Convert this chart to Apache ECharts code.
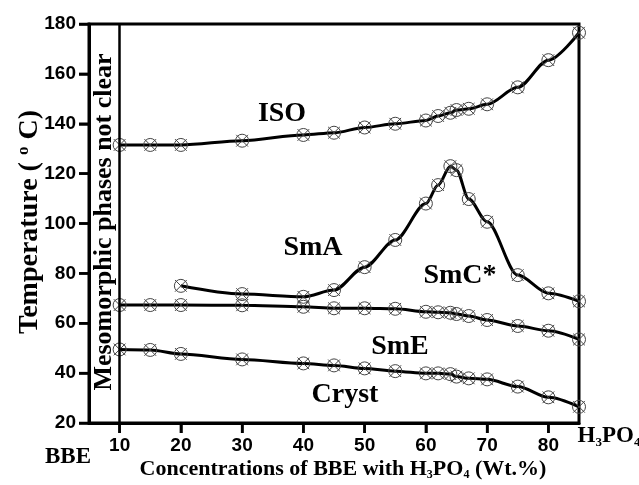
<!DOCTYPE html>
<html>
<head>
<meta charset="utf-8">
<script src="https://cdn.jsdelivr.net/npm/echarts@6/dist/echarts.min.js"></script>
<style>html,body{margin:0;padding:0;background:#fff;}#c{width:639px;height:485px;}</style>
</head>
<body>
<div id="c"></div>
<script>
// concentrations (wt.%) and transition temperatures (°C)
var isoX   = [10,15,20,30,40,45,50,55,60,62,64,65,67,70,75,80,85];
var isoT   = [131.5,131.5,131.5,133.2,135.5,136.4,138.5,140,141.3,143.1,144.4,145.5,146,147.8,154.6,165.5,176.5];
var smaX   = [20,30,40,45,50,55,60,62,64,65,67,70,75,80,85];
var smaT   = [75,71.7,70.6,73.3,82.5,93.4,108,115.4,123,121.4,109.8,100.7,79.3,72,68.8];
var smeX   = [10,15,20,30,40,45,50,55,60,62,64,65,67,70,75,80,85];
var smeT   = [67.3,67.3,67.3,67.2,66.6,66,66,65.8,64.6,64.4,64.2,63.7,62.9,61.3,58.9,57,53.5];
var crystX = [10,15,20,30,40,45,50,55,60,62,64,65,67,70,75,80,85];
var crystT = [49.5,49.3,47.7,45.5,43.9,43.1,41.9,40.8,39.9,39.9,39.6,38.6,37.9,37.5,34.6,30.3,26.5];
var xTicks = [10,20,30,40,50,60,70,80];
var yTicks = [20,40,60,80,100,120,140,160,180];
var xMin = 5, xMax = 85, yMin = 20, yMax = 180;
var boundaryX = 10;

function pairs(xs, ys){ return xs.map(function(x,i){ return [x, ys[i]]; }); }

var SERIF = '"Liberation Serif","Times New Roman",serif';
var SANS = '"Liberation Sans",Arial,sans-serif';
var marker = 'path://M0,-10A10,10,0,1,1,0,10A10,10,0,1,1,0,-10Z M-9,-9L9,9 M9,-9L-9,9';

function mkSeries(xs, ys){
  return {
    type:'line', data: pairs(xs, ys), smooth: 0.3, smoothMonotone:'x',
    symbol: marker, symbolSize: 13, showSymbol: true,
    lineStyle:{color:'#000', width:3},
    itemStyle:{color:'rgba(0,0,0,0)', borderColor:'#444', borderWidth:1},
    emphasis:{disabled:true}, z: 3
  };
}

var chart = echarts.init(document.getElementById('c'), null, {renderer:'canvas'});
var series = [mkSeries(isoX, isoT), mkSeries(smaX, smaT), mkSeries(smeX, smeT), mkSeries(crystX, crystT)];
series[0].markLine = {
  silent:true, symbol:['none','none'], label:{show:false},
  lineStyle:{color:'#000', width:2.5, type:'solid'},
  data:[{xAxis: boundaryX}]
};

function phase(text, x, y){
  return {type:'text', x:x, y:y, style:{text:text, font:'bold 28px '+SERIF, fill:'#000', align:'center', verticalAlign:'middle'}, z:10};
}

var graphics = [
  phase('ISO', 282, 114),
  phase('SmA', 313, 248),
  phase('SmC*', 460, 276),
  phase('SmE', 400, 347),
  phase('Cryst', 345, 395),
  {type:'text', x:104, y:222, rotation:Math.PI/2, style:{text:'Mesomorphic phases not clear', font:'bold 26px '+SERIF, fill:'#000', align:'center', verticalAlign:'middle'}, z:10},
  {type:'text', x:30, y:222, rotation:Math.PI/2, style:{
    text:'{n|Temperature ( }{s|o}{n| C)}', align:'center', verticalAlign:'middle',
    rich:{ n:{font:'bold 28px '+SERIF, fill:'#000', lineHeight:30}, s:{font:'bold 17px '+SERIF, fill:'#000', lineHeight:14, verticalAlign:'top'} }
  }, z:10},
  {type:'text', x:68, y:457, style:{text:'BBE', font:'bold 23px '+SERIF, fill:'#000', align:'center', verticalAlign:'middle'}, z:10},
  {type:'text', x:609, y:436, style:{
    text:'{n|H}{s|3}{n|PO}{s|4}', align:'center', verticalAlign:'middle',
    rich:{ n:{font:'bold 23px '+SERIF, fill:'#000', lineHeight:26}, s:{font:'bold 13px '+SERIF, fill:'#000', lineHeight:12, verticalAlign:'bottom'} }
  }, z:10},
  {type:'text', x:343, y:469, style:{
    text:'{n|Concentrations of BBE with H}{s|3}{n|PO}{s|4}{n| (Wt.%)}', align:'center', verticalAlign:'middle',
    rich:{ n:{font:'bold 22px '+SERIF, fill:'#000', lineHeight:24}, s:{font:'bold 12px '+SERIF, fill:'#000', lineHeight:10, verticalAlign:'bottom'} }
  }, z:10}
];

var option = {
  animation:false,
  backgroundColor:'#fff',
  grid:{left:89, right:60, top:24, bottom:62, show:true, borderColor:'#000', borderWidth:3, backgroundColor:'transparent'},
  xAxis:{
    type:'value', min:xMin, max:xMax,
    axisLine:{show:true, lineStyle:{color:'#000', width:3}},
    axisTick:{show:true, length:10, lineStyle:{color:'#000', width:2.5}, customValues:xTicks},
    axisLabel:{show:true, customValues:xTicks, color:'#000', fontFamily:SANS, fontWeight:'bold', fontSize:19, margin:13},
    splitLine:{show:false}
  },
  yAxis:{
    type:'value', min:yMin, max:yMax, interval:20,
    axisLine:{show:true, lineStyle:{color:'#000', width:3}},
    axisTick:{show:true, length:10, lineStyle:{color:'#000', width:2.5}},
    axisLabel:{show:true, color:'#000', fontFamily:SANS, fontWeight:'bold', fontSize:19, margin:13},
    splitLine:{show:false}
  },
  series: series,
  graphic: graphics
};
chart.setOption(option);

// outward tick marks placed through the chart's own scales
var tickG = [];
xTicks.forEach(function(v){
  var p = chart.convertToPixel({gridIndex:0}, [v, yMin]);
  tickG.push({type:'line', shape:{x1:p[0], y1:p[1], x2:p[0], y2:p[1]+10}, style:{stroke:'#000', lineWidth:2.5}, z:20, silent:true});
});
yTicks.forEach(function(v){
  var p = chart.convertToPixel({gridIndex:0}, [xMin, v]);
  tickG.push({type:'line', shape:{x1:p[0]-10, y1:p[1], x2:p[0], y2:p[1]}, style:{stroke:'#000', lineWidth:2.5}, z:20, silent:true});
});
chart.setOption({graphic: graphics.concat(tickG)});
</script>
</body>
</html>
